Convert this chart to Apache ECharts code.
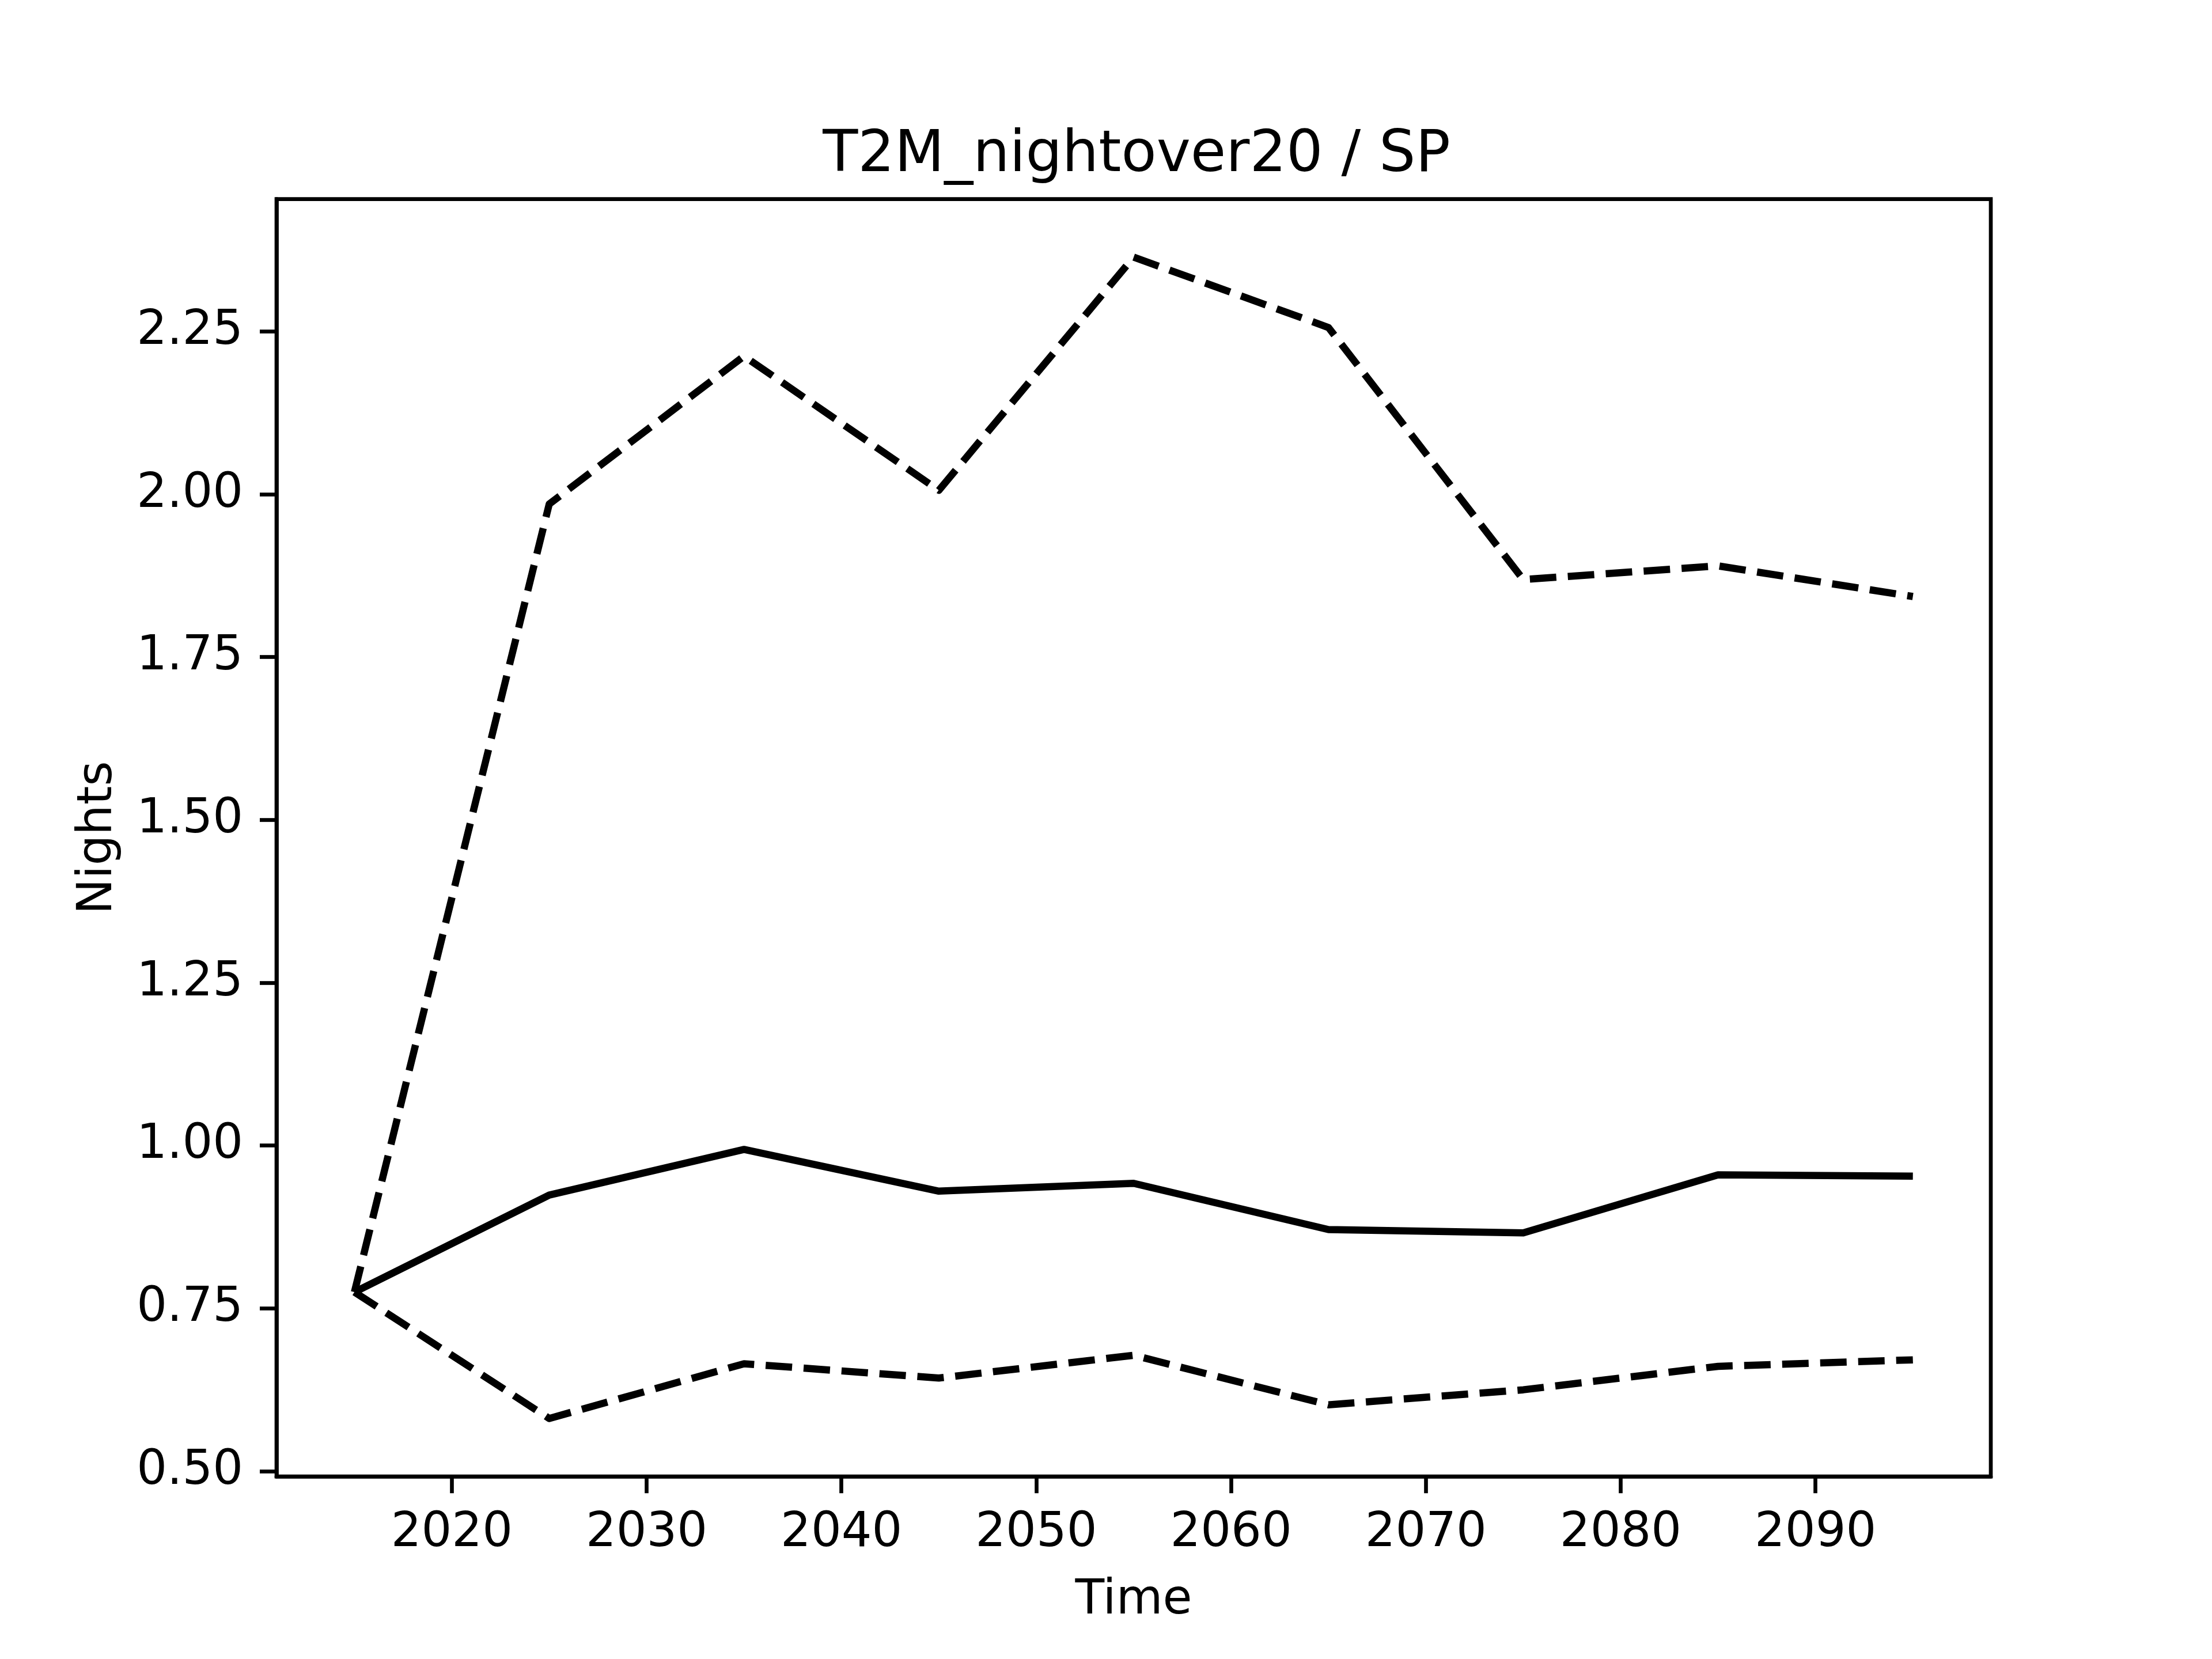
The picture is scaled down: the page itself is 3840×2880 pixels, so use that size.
<!DOCTYPE html>
<html>
<head>
<meta charset="utf-8">
<script src="https://cdn.jsdelivr.net/npm/echarts@6/dist/echarts.min.js"></script>
<style>html,body{margin:0;padding:0;background:#fff;}#c{width:3840px;height:2880px;}</style>
</head>
<body>
<div id="c"></div>
<script>
const years = [2015, 2025, 2035, 2045, 2055, 2065, 2075, 2085, 2095];
const meanVals = [0.775, 0.924, 0.994, 0.930, 0.942, 0.871, 0.866, 0.955, 0.953];
const upperVals = [0.775, 1.985, 2.212, 2.006, 2.364, 2.256, 1.869, 1.890, 1.843];
const lowerVals = [0.775, 0.581, 0.665, 0.643, 0.678, 0.602, 0.625, 0.661, 0.671];
const xTicks = [2020, 2030, 2040, 2050, 2060, 2070, 2080, 2090];
const yTicks = [0.50, 0.75, 1.00, 1.25, 1.50, 1.75, 2.00, 2.25];

const titleText = 'T2M_nightover20 / SP';
const xName = 'Time';
const yName = 'Nights';

// matplotlib-style 5% margins
const allY = meanVals.concat(upperVals, lowerVals);
const yMinD = Math.min(...allY), yMaxD = Math.max(...allY);
const yPad = (yMaxD - yMinD) * 0.05;
const xPad = (years[years.length - 1] - years[0]) * 0.05;

const pair = (vals) => years.map((y, i) => [y, vals[i]]);
const FONT = 'DejaVu Sans';
const LW = 12.5;
const SPINE = 6.67;

const chart = echarts.init(document.getElementById('c'), null, {renderer: 'canvas'});
chart.setOption({
  backgroundColor: '#ffffff',
  animation: false,
  title: {
    text: titleText,
    left: 1968,
    textAlign: 'center',
    top: 216,
    textStyle: {fontFamily: FONT, fontSize: 100, fontWeight: 'normal', color: '#000'}
  },
  grid: {
    left: 480, right: 384, top: 345.6, bottom: 316.8,
    show: true, borderColor: '#000', borderWidth: SPINE, backgroundColor: '#fff'
  },
  xAxis: {
    type: 'value',
    min: years[0] - xPad,
    max: years[years.length - 1] + xPad,
    name: xName,
    nameLocation: 'middle',
    nameGap: 175,
    nameTextStyle: {fontFamily: FONT, fontSize: 83, color: '#000'},
    splitLine: {show: false},
    axisLine: {show: true, lineStyle: {color: '#000', width: SPINE}},
    axisTick: {show: true, inside: false, length: 29, lineStyle: {color: '#000', width: SPINE}, customValues: xTicks},
    axisLabel: {fontFamily: FONT, fontSize: 83, color: '#000', margin: 58, customValues: xTicks, formatter: v => String(v)}
  },
  yAxis: {
    type: 'value',
    min: yMinD - yPad,
    max: yMaxD + yPad,
    name: yName,
    nameLocation: 'middle',
    nameGap: 267,
    nameRotate: 90,
    nameTextStyle: {fontFamily: FONT, fontSize: 83, color: '#000'},
    splitLine: {show: false},
    axisLine: {show: true, lineStyle: {color: '#000', width: SPINE}},
    axisTick: {show: true, inside: false, length: 29, lineStyle: {color: '#000', width: SPINE}, customValues: yTicks},
    axisLabel: {fontFamily: FONT, fontSize: 83, color: '#000', margin: 58, customValues: yTicks, formatter: v => v.toFixed(2)}
  },
  series: [
    {type: 'line', data: pair(meanVals), showSymbol: false, symbol: 'none',
     lineStyle: {color: '#000', width: LW, type: 'solid', join: 'round', cap: 'butt'}},
    {type: 'line', data: pair(upperVals), showSymbol: false, symbol: 'none',
     lineStyle: {color: '#000', width: LW, type: [46, 20], join: 'round', cap: 'butt'}},
    {type: 'line', data: pair(lowerVals), showSymbol: false, symbol: 'none',
     lineStyle: {color: '#000', width: LW, type: [46, 20], join: 'round', cap: 'butt'}}
  ]
});
</script>
</body>
</html>
